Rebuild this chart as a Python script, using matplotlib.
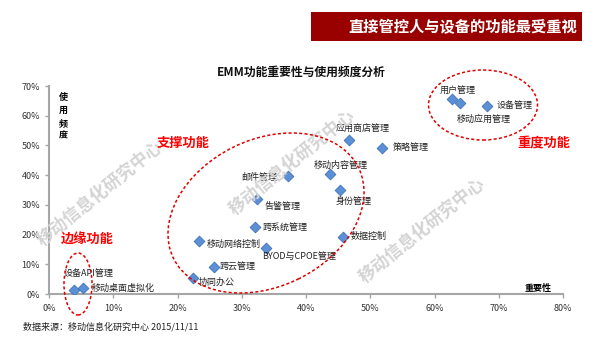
import matplotlib.pyplot as plt
from matplotlib.patches import Ellipse, Rectangle
from matplotlib.ticker import FuncFormatter

plt.rcParams['font.family'] = ['Noto Sans CJK SC', 'DejaVu Sans']

# 功能名称、重要性(%)、使用频度(%)
features = ['设备API管理', '移动桌面虚拟化', '协同办公', '跨云管理', '移动网络控制',
            '跨系统管理', 'BYOD与CPOE管理', '告警管理', '邮件管理', '移动内容管理',
            '身份管理', '数据控制', '应用商店管理', '策略管理', '用户管理',
            '设备管理', '移动应用管理']
importance = [3.9, 5.3, 22.4, 25.7, 23.4, 32.0, 33.8, 32.4, 37.2, 43.8,
              45.3, 45.7, 46.7, 51.9, 62.8, 68.2, 63.9]
frequency = [1.3, 2.1, 5.5, 9.2, 17.8, 22.5, 15.4, 31.9, 39.7, 40.3,
             35.0, 19.3, 51.7, 49.3, 65.6, 63.3, 64.2]

# label offsets in pixels (dx, dy, ha)
label_pos = {
    '设备API管理': (-10, 17, 'left'), '移动桌面虚拟化': (9, 0, 'left'),
    '协同办公': (6, -5, 'left'), '跨云管理': (6, 0, 'left'),
    '移动网络控制': (7, -3, 'left'), '跨系统管理': (8, 0, 'left'),
    'BYOD与CPOE管理': (-4, -8, 'left'), '告警管理': (7, -7, 'left'),
    '邮件管理': (-11, -1, 'right'), '移动内容管理': (-17, 9, 'left'),
    '身份管理': (-4, -11, 'left'), '数据控制': (8, 0, 'left'),
    '应用商店管理': (-13, 11, 'left'), '策略管理': (10, 0, 'left'),
    '用户管理': (-13, 9, 'left'), '设备管理': (9, 0, 'left'),
    '移动应用管理': (-3, -16, 'left'),
}

W, H = 600, 338
fig = plt.figure(figsize=(W / 100, H / 100), dpi=100)
ax = fig.add_axes([49 / W, 1 - 294 / H, 514 / W, 208 / H])


def px(x, y):
    # figure pixel (from top-left) -> figure fraction
    return x / W, 1 - y / H


# header banner
fig.patches.append(Rectangle(px(311, 41), 271 / W, 29 / H, transform=fig.transFigure,
                             facecolor='#990000', edgecolor='none'))
fig.text(*px(577, 27.5), '直接管控人与设备的功能最受重视', color='white', fontsize=11,
         fontweight='bold', ha='right', va='center')

fig.text(*px(301, 72), 'EMM功能重要性与使用频度分析', fontsize=8.5, fontweight='bold',
         ha='center', va='center', color='#111111')

# watermarks
for cx, cy in [(100, 193), (292, 162), (422, 230)]:
    fig.text(*px(cx, cy), '移动信息化研究中心', fontsize=12.5, color='#d4d4d4',
             rotation=39, ha='center', va='center', fontweight='bold', zorder=0)

ax.scatter(importance, frequency, marker='D', s=30, color='#5b8fd6',
           edgecolor='#3f72b8', linewidth=0.6, zorder=3)
for name, x, y in zip(features, importance, frequency):
    dx, dy, ha = label_pos[name]
    ax.annotate(name, (x, y), xytext=(dx, dy), textcoords='offset pixels',
                ha=ha, va='center', fontsize=6.5, color='#222222')

ax.set_xlim(0, 80)
ax.set_ylim(0, 70)
ax.set_xticks(range(0, 81, 10))
ax.set_yticks(range(0, 71, 10))
pct = FuncFormatter(lambda v, p: f'{v:.0f}%')
ax.xaxis.set_major_formatter(pct)
ax.yaxis.set_major_formatter(pct)
ax.tick_params(labelsize=6.5, labelcolor='#333333', color='#a6a6a6', length=3, width=1)
ax.tick_params(axis='x', pad=4)
for s in ['top', 'right']:
    ax.spines[s].set_visible(False)
for s in ['left', 'bottom']:
    ax.spines[s].set_color('#a6a6a6')
    ax.spines[s].set_linewidth(1.5)
ax.patch.set_alpha(0)

fig.text(*px(63, 117), '使\n用\n频\n度', fontsize=6.5, fontweight='bold', ha='center',
         va='center', linespacing=1.55)
fig.text(*px(538, 288), '重要性', fontsize=6.5, fontweight='bold', ha='center', va='center')

# group ellipses
for (cx, cy, w, h, ang) in [(78, 284, 28, 62, 0), (266, 213, 206, 147, 26),
                            (483, 105, 109, 70, 0)]:
    fig.patches.append(Ellipse((cx / 100, (H - cy) / 100), w / 100, h / 100, angle=ang,
                               transform=fig.dpi_scale_trans, fill=False,
                               edgecolor='#e00000', linestyle=(0, (2, 1.5)), linewidth=1.1))

for txt, cx, cy in [('支撑功能', 183, 143), ('重度功能', 544, 143), ('边缘功能', 87, 240)]:
    fig.text(*px(cx, cy), txt, fontsize=9.5, fontweight='bold', color='#ff0000',
             ha='center', va='center')

fig.text(*px(23, 327), '数据来源：移动信息化研究中心 2015/11/11', fontsize=6.5,
         ha='left', va='center', color='#222222')

fig.savefig('out.png', dpi=100)
